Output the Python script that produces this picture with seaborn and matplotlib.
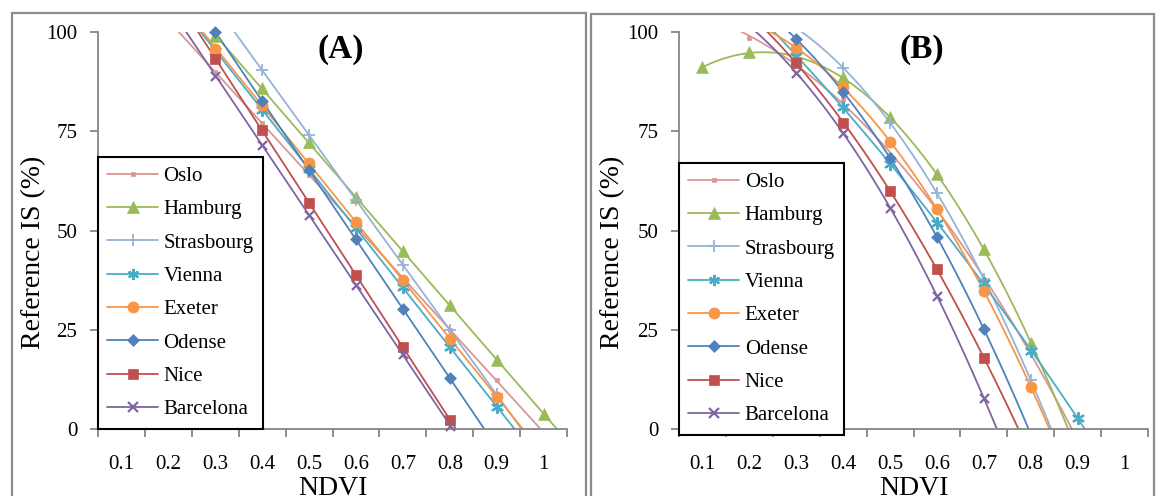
import numpy as np
import matplotlib.pyplot as plt
import seaborn as sns
from matplotlib.lines import Line2D
from matplotlib.patches import Rectangle

nan = np.nan

# NDVI categories on the x axis
ndvi = [0.1, 0.2, 0.3, 0.4, 0.5, 0.6, 0.7, 0.8, 0.9, 1.0]
cities = ['Oslo', 'Hamburg', 'Strasbourg', 'Vienna', 'Exeter', 'Odense', 'Nice', 'Barcelona']

# panel (A) - reference IS (%)
oslo_a = [nan, nan, 90, 77, 64, 51, 38, 25, 12.3, nan]
hamburg_a = [nan, nan, 99, 85.8, 72.2, 58.4, 44.8, 31.2, 17.4, 3.8]
strasbourg_a = [nan, nan, nan, 90.4, 74, 57.7, 41.3, 25, 8.7, nan]
vienna_a = [nan, nan, 95.3, 80.4, 65.5, 50.6, 35.8, 20.7, 5.5, nan]
exeter_a = [nan, nan, 95.8, 81.6, 67, 52.2, 37.5, 22.7, 8.1, nan]
odense_a = [nan, nan, 100, 82.6, 65.2, 47.9, 30.2, 12.8, nan, nan]
nice_a = [nan, nan, 93.3, 75.2, 57, 38.8, 20.7, 2.3, nan, nan]
barcelona_a = [nan, nan, 89, 71.5, 54, 36.3, 18.9, 0.8, nan, nan]

# panel (B)
oslo_b = [nan, 98.5, 92, 83, 69, 55, 37.5, 19.5, nan, nan]
hamburg_b = [91.2, 95, 93, 88.7, 78.6, 64.2, 45.3, 21.7, nan, nan]
strasbourg_b = [nan, nan, nan, 91, 77.1, 59.4, 37.8, 12.3, nan, nan]
vienna_b = [nan, nan, 94, 81.1, 66.7, 51.9, 36.8, 19.6, 2.8, nan]
exeter_b = [nan, nan, 96, 86.1, 72.3, 55.4, 34.8, 10.6, nan, nan]
odense_b = [nan, nan, 98.2, 84.9, 68.3, 48.3, 25.2, nan, nan, nan]
nice_b = [nan, nan, 92.2, 77.1, 60, 40.3, 17.9, nan, nan, nan]
barcelona_b = [nan, nan, 89.7, 74.6, 55.7, 33.5, 7.8, nan, nan, nan]

series_a = [oslo_a, hamburg_a, strasbourg_a, vienna_a, exeter_a, odense_a, nice_a, barcelona_a]
series_b = [oslo_b, hamburg_b, strasbourg_b, vienna_b, exeter_b, odense_b, nice_b, barcelona_b]

# colour, marker, marker size (pt), marker edge width
styles = {
    'Oslo': ('#D99694', 's', 3.2, 0.5),
    'Hamburg': ('#9BBB59', '^', 8.5, 0.5),
    'Strasbourg': ('#95B3D7', '+', 8, 1.3),
    'Vienna': ('#4BACC6', (6, 2, 0), 8, 1.6),
    'Exeter': ('#F79646', 'o', 8, 0.5),
    'Odense': ('#4F81BD', 'D', 6, 0.5),
    'Nice': ('#C0504D', 's', 7, 0.5),
    'Barcelona': ('#8064A2', 'x', 6.5, 1.6),
}

gray = '#868686'

sns.set_style('white')
plt.rcParams['font.family'] = ['Liberation Serif', 'DejaVu Serif']
plt.rcParams['text.color'] = 'black'


def draw_panel(ax, series, order, tag, ylab_x, fit_start, leg_top):
    # trend lines run from fit_start to the right edge of the axis
    ax.set_xlim(fit_start, 1.05)
    ax.set_ylim(0, 100)
    for city, vals in zip(cities, series):
        color, marker, ms, mew = styles[city]
        sns.regplot(x=ndvi, y=vals, ax=ax, order=order, ci=None, truncate=False,
                    color=color, marker=marker,
                    scatter_kws=dict(s=ms ** 2, linewidths=mew, alpha=1,
                                     zorder=3, clip_on=False),
                    line_kws=dict(lw=1.3, zorder=2))
    ax.set_xlim(0.05, 1.05)
    ax.set_ylim(0, 100)

    ax.set_xticks(ndvi)
    ax.set_xticklabels([f'{v:g}' for v in ndvi])
    ax.set_xticks([v - 0.05 for v in ndvi] + [1.05], minor=True)
    ax.set_yticks([0, 25, 50, 75, 100])
    ax.tick_params(which='both', bottom=True, left=True, labelcolor='black',
                   labelsize=15, color=gray, width=1.3, direction='out')
    ax.tick_params(axis='x', which='major', length=0, pad=19)
    ax.tick_params(axis='x', which='minor', length=6)
    ax.tick_params(axis='y', length=6, pad=9)

    for side in ['top', 'right']:
        ax.spines[side].set_visible(False)
    for side in ['left', 'bottom']:
        ax.spines[side].set_color(gray)
        ax.spines[side].set_linewidth(1.3)

    ax.set_xlabel('NDVI', fontsize=20, color='black')
    ax.set_ylabel('Reference IS (%)', fontsize=20, color='black')
    ax.xaxis.set_label_coords(0.5, -0.118)
    ax.yaxis.set_label_coords(ylab_x, 0.446)

    ax.text(0.518, 0.955, tag, transform=ax.transAxes, ha='center', va='center',
            fontsize=24, fontweight='bold')

    handles = []
    for city in cities:
        color, marker, ms, mew = styles[city]
        handles.append(Line2D([], [], color=color, marker=marker, markersize=ms,
                              markeredgewidth=mew, lw=1.3))
    leg = ax.legend(handles, cities, loc='upper left', bbox_to_anchor=(0, leg_top),
                    frameon=True, fancybox=False, edgecolor='black', framealpha=1,
                    fontsize=15, handlelength=2.45, handletextpad=0.25,
                    labelspacing=0.66, borderpad=0.45, borderaxespad=0)
    leg.get_frame().set_linewidth(1.5)


fig = plt.figure(figsize=(11.57, 4.96), dpi=100)
ax_a = fig.add_axes([98 / 1157, 67 / 496, 469 / 1157, 397 / 496])
ax_b = fig.add_axes([679 / 1157, 67 / 496, 469 / 1157, 397 / 496])

draw_panel(ax_a, series_a, 1, '(A)', -0.11, 0.05, 0.685)
draw_panel(ax_b, series_b, 2, '(B)', -0.115, 0.1, 0.67)

# chart-area borders of the two panels
for x0, x1, top in [(12, 586, 13), (591, 1154, 14)]:
    fig.add_artist(Rectangle((x0 / 1157, -0.1), (x1 - x0) / 1157, 1.1 - top / 496,
                             transform=fig.transFigure, fill=False,
                             edgecolor='#8c8c8c', lw=1.6))

fig.savefig('out.png', dpi=100)
